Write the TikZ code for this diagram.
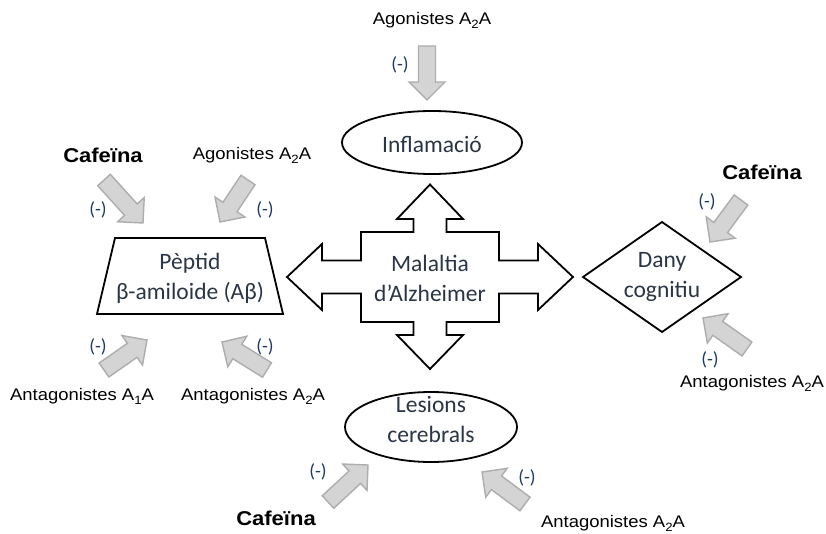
\documentclass[tikz,border=0pt]{standalone}
\usepackage{fontspec}
\setmainfont{Carlito}
\newfontfamily\arialf{Liberation Sans}
\usetikzlibrary{calc}
\definecolor{txtc}{HTML}{2A3545}
\definecolor{minc}{HTML}{1F3B63}
\definecolor{gfill}{HTML}{D4D4D4}
\definecolor{gline}{HTML}{ADADAD}
\tikzset{
  x=1pt, y=-1pt,
  shapeline/.style={draw=black, line width=1.8pt, line join=miter},
  inner/.style={text=txtc, font=\fontsize{23.5}{30}\selectfont, align=center, inner sep=0pt},
  lab/.style={text=black, font=\arialf\fontsize{16.8}{20}\selectfont, inner sep=0pt, xscale=1.1},
  bold lab/.style={text=black, font=\arialf\bfseries\fontsize{20}{22}\selectfont, inner sep=0pt, xscale=1.1},
  minus/.style={text=minc, font=\fontsize{19}{22}\selectfont, inner sep=0pt},
  garrow/.style={fill=gfill, draw=gline, line width=1.4pt, line join=miter},
}
\newcommand\fatarrow[2]{%
  \coordinate (fa-h) at ($(#2)!18pt!(#1)$);
  \draw[garrow] ($(#1)!8.5pt!90:(#2)$) -- ($(fa-h)!8.5pt!90:(#2)$) -- ($(fa-h)!18pt!90:(#2)$)
    -- (#2) -- ($(fa-h)!18pt!-90:(#2)$) -- ($(fa-h)!8.5pt!-90:(#2)$) -- ($(#1)!8.5pt!-90:(#2)$) -- cycle;
}
\newcommand\subtwo[1]{\raisebox{-0.45ex}{\fontsize{12}{12}\selectfont #1}}
\begin{document}
\begin{tikzpicture}
\useasboundingbox[fill=white] (0,0) rectangle (826,534);

% central cross
\node[inner] (alz) at (430,278.5) {Malaltia\\d’Alzheimer};
\draw[shapeline] (430,184.5) -- (463,219) -- (446.5,219) -- (446.5,232) -- (499,232) -- (499,260.5)
  -- (538,260.5) -- (538,244) -- (573,277) -- (538,310) -- (538,293.5) -- (499,293.5) -- (499,322)
  -- (446.5,322) -- (446.5,335) -- (463,335) -- (430,369) -- (397,335) -- (413.5,335) -- (413.5,322)
  -- (361,322) -- (361,293.5) -- (322,293.5) -- (322,310) -- (287,277) -- (322,244) -- (322,260.5)
  -- (361,260.5) -- (361,232) -- (413.5,232) -- (413.5,219) -- (397,219) -- cycle;

% Inflamacio
\draw[shapeline] (432,142.5) ellipse [x radius=90, y radius=31.5];
\node[inner] (infl) at (432,144) {Inflamació};

% Lesions
\draw[shapeline] (431,427) ellipse [x radius=86, y radius=35];
\node[inner] (les) at (431,419.5) {Lesions\\cerebrals};

% Peptid trapezoid
\draw[shapeline] (115,238) -- (265,238) -- (283,314) -- (97,314) -- cycle;
\node[inner] (pep) at (190,278) {Pèptid\\β-amiloide (Aβ)};

% Dany diamond
\draw[shapeline] (583,277) -- (662,222) -- (741,277) -- (662,332) -- cycle;
\node[inner] (dany) at (662,277) {Dany\\cognitiu};

% labels
\node[lab] (agoT) at (432,20) {Agonistes A\subtwo{2}A};
\node[bold lab] (cafL) at (103,155) {Cafeïna};
\node[lab] (agoL) at (252,155) {Agonistes A\subtwo{2}A};
\node[lab] (ant1L) at (82,396) {Antagonistes A\subtwo{1}A};
\node[lab] (ant2L) at (253,396) {Antagonistes A\subtwo{2}A};
\node[bold lab] (cafR) at (762,172) {Cafeïna};
\node[lab] (antR) at (752,383) {Antagonistes A\subtwo{2}A};
\node[bold lab] (cafB) at (276,518) {Cafeïna};
\node[lab] (antB) at (613,523) {Antagonistes A\subtwo{2}A};

% minus signs
\node[minus] (m1) at (400,65) {(-)};
\node[minus] (m2) at (98,210) {(-)};
\node[minus] (m3) at (265,210) {(-)};
\node[minus] (m4) at (98,347) {(-)};
\node[minus] (m5) at (265,347) {(-)};
\node[minus] (m6) at (707,202) {(-)};
\node[minus] (m7) at (710,360) {(-)};
\node[minus] (m8) at (318,472) {(-)};
\node[minus] (m9) at (527,478) {(-)};

% arrow end points
\coordinate (t1) at (427,46);   \coordinate (h1) at (427,100);
\coordinate (t2) at (104,180);  \coordinate (h2) at (143,223);
\coordinate (t3) at (248,180);  \coordinate (h3) at (220,222);
\coordinate (t4) at (104,370);  \coordinate (h4) at (147,340);
\coordinate (t5) at (267,370);  \coordinate (h5) at (222,342);
\coordinate (t6) at (741,200);  \coordinate (h6) at (710,242);
\coordinate (t7) at (747,349);  \coordinate (h7) at (703,318);
\coordinate (t8) at (328,502);  \coordinate (h8) at (368,465);
\coordinate (t9) at (525,504);  \coordinate (h9) at (482,472);
\fatarrow{t1}{h1}
\fatarrow{t2}{h2}
\fatarrow{t3}{h3}
\fatarrow{t4}{h4}
\fatarrow{t5}{h5}
\fatarrow{t6}{h6}
\fatarrow{t7}{h7}
\fatarrow{t8}{h8}
\fatarrow{t9}{h9}
\end{tikzpicture}
\end{document}
